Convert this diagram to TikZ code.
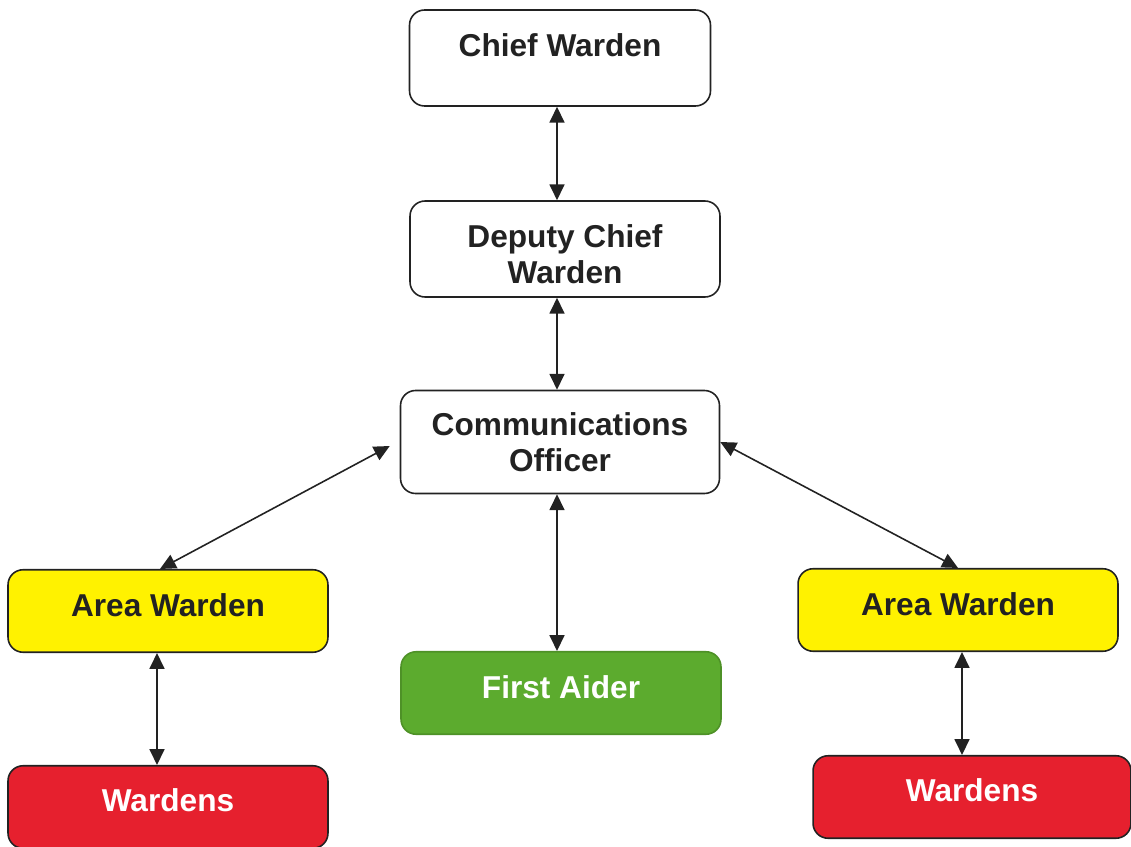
\documentclass[tikz,border=0pt]{standalone}
\usepackage{fontspec}
\setmainfont{Liberation Sans}
\usetikzlibrary{arrows.meta}
\definecolor{areaYellow}{RGB}{255,242,0}
\definecolor{wardenRed}{RGB}{230,32,46}
\definecolor{aiderGreen}{RGB}{92,171,46}
\definecolor{edgeGray}{RGB}{34,34,34}
\tikzset{
  role box/.style={draw=edgeGray, line width=0.9pt, rounded corners=0.3cm, fill=white,
    minimum width=6.4cm, minimum height=1.65cm, align=center, inner sep=2pt,
    font=\fontsize{18}{20.5}\selectfont\bfseries, text=edgeGray},
  raised text/.style={text height=0.46cm, text depth=#1},
  area box/.style={role box, fill=areaYellow},
  warden box/.style={role box, fill=wardenRed, text=white},
  aider box/.style={role box, draw=aiderGreen!85!black, fill=aiderGreen, text=white},
  link line/.style={{Triangle[length=9pt,width=8.5pt]}-{Triangle[length=9pt,width=8.5pt]}, line width=0.9pt, edgeGray},
}

\begin{document}
\begin{tikzpicture}[x=0.02cm, y=-0.02cm]
  \useasboundingbox (0,0) rectangle (1131,847);
  % top of the chain
  \node[role box, minimum width=6.02cm, minimum height=1.92cm, raised text=0.52cm] (chief) at (560,58) {Chief Warden};
  \node[role box, minimum width=6.2cm, minimum height=1.92cm] (deputy) at (565,249) {\rule{0pt}{0.66cm}Deputy Chief\\Warden};
  \node[role box, minimum width=6.38cm, minimum height=2.06cm] (comm) at (560,442) {Communications\\Officer};
  % area level
  \node[area box, raised text=0.24cm] (areaL) at (168,611) {Area Warden};
  \node[area box, raised text=0.24cm] (areaR) at (958,610) {Area Warden};
  \node[aider box, raised text=0.26cm] (aider) at (561,693) {First Aider};
  \node[warden box, raised text=0.28cm] (wardensL) at (168,807) {Wardens};
  \node[warden box, minimum width=6.36cm, raised text=0.28cm] (wardensR) at (972,797) {Wardens};

  \draw[link line] ([xshift=-0.06cm]chief.south) -- ([xshift=-0.06cm]chief.south |- deputy.north);
  \draw[link line] ([xshift=-0.06cm]comm.north |- deputy.south) -- ([xshift=-0.06cm]comm.north);
  \draw[link line] ([xshift=-0.06cm]comm.south) -- ([xshift=-0.06cm]comm.south |- aider.north);
  \draw[link line] ([xshift=-0.2cm,yshift=-0.08cm]comm.west) -- ([xshift=-0.16cm]areaL.north);
  \draw[link line] (comm.east) -- (areaR.north);
  \draw[link line] ([xshift=-0.22cm]areaL.south) -- ([xshift=-0.22cm]areaL.south |- wardensL.north);
  \draw[link line] ([xshift=0.08cm]areaR.south) -- ([xshift=0.08cm]areaR.south |- wardensR.north);
\end{tikzpicture}
\end{document}
